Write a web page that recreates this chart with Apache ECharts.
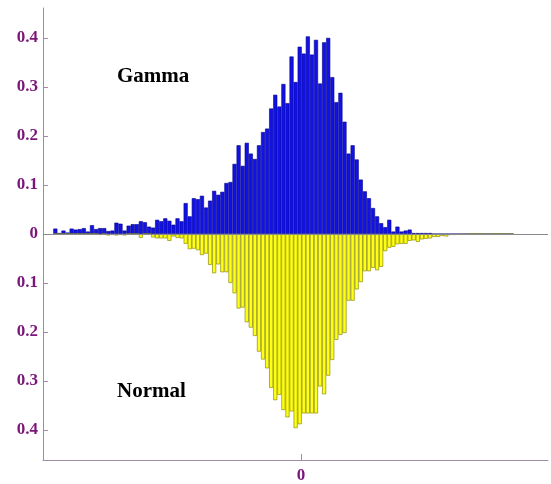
<!DOCTYPE html>
<html>
<head>
<meta charset="utf-8">
<script src="https://cdn.jsdelivr.net/npm/echarts@6/dist/echarts.min.js"></script>
<style>
html, body { margin: 0; padding: 0; background: #fff; }
#chart { width: 551px; height: 484px; }
</style>
</head>
<body>
<div id="chart"></div>
<script>
// bin heights, one bin per unit, left to right
var gamma = [
    0.011, 0.002, 0.007, 0.003, 0.011, 0.009, 0.010, 0.012, 0.005, 0.018,
    0.010, 0.012, 0.012, 0.006, 0.007, 0.023, 0.021, 0.007, 0.017, 0.020,
    0.020, 0.026, 0.024, 0.015, 0.013, 0.029, 0.026, 0.032, 0.027, 0.019,
    0.032, 0.026, 0.063, 0.036, 0.073, 0.071, 0.078, 0.054, 0.068, 0.088,
    0.080, 0.086, 0.104, 0.106, 0.143, 0.181, 0.139, 0.186, 0.164, 0.153,
    0.181, 0.208, 0.215, 0.256, 0.284, 0.260, 0.306, 0.267, 0.362, 0.310,
    0.382, 0.368, 0.403, 0.366, 0.396, 0.307, 0.391, 0.400, 0.320, 0.269,
    0.288, 0.229, 0.164, 0.181, 0.152, 0.111, 0.087, 0.073, 0.053, 0.036,
    0.022, 0.014, 0.029, 0.005, 0.015, 0.005, 0.007, 0.009, 0.002, 0.002,
    0.002, 0.002, 0.002, 0, 0, 0, 0, 0, 0, 0,
    0, 0, 0, 0, 0, 0, 0, 0, 0, 0,
    0, 0, 0
];
var normal = [
    0, 0, 0, 0, 0, 0, 0, 0, 0, 0,
    0, 0.002, 0, 0.003, 0.002, 0.003, 0.002, 0.003, 0, 0,
    0, 0.008, 0, 0, 0.007, 0.009, 0.009, 0.009, 0.014, 0.005,
    0.008, 0.009, 0.020, 0.031, 0.030, 0.033, 0.043, 0.040, 0.063, 0.080,
    0.062, 0.078, 0.078, 0.100, 0.121, 0.152, 0.150, 0.180, 0.191, 0.208,
    0.240, 0.256, 0.274, 0.314, 0.339, 0.328, 0.359, 0.374, 0.362, 0.396,
    0.388, 0.366, 0.366, 0.366, 0.366, 0.311, 0.327, 0.289, 0.257, 0.216,
    0.206, 0.202, 0.136, 0.136, 0.113, 0.098, 0.076, 0.076, 0.069, 0.074,
    0.067, 0.035, 0.028, 0.026, 0.021, 0.020, 0.020, 0.014, 0.013, 0.016,
    0.011, 0.010, 0.009, 0.006, 0.006, 0.004, 0.005, 0.002, 0.002, 0.001,
    0.001, 0.001, 0, 0, 0, 0, 0.001, 0, 0, 0,
    0, 0.001, 0
];
var binStart = -60.8;          // left edge of the first bin, 0 is on the tick
var xTicks = [0];
var yTicks = [-0.4, -0.3, -0.2, -0.1, 0, 0.1, 0.2, 0.3, 0.4];

var xMin = -63.33, xMax = 60.67;
var yLim = 0.461;
var purple = '#7a167a';
var axisGrey = '#a08ca8';

var myChart = echarts.init(document.getElementById('chart'));

var gridW = 551 - 43 - 3;
var binPx = gridW / (xMax - xMin);

var labelFont = {
    color: purple,
    fontFamily: 'Liberation Serif',
    fontWeight: 'bold',
    fontSize: 17
};

var option = {
    backgroundColor: '#fff',
    animation: false,
    grid: { left: 43, right: 3, top: 8, bottom: 24 },
    xAxis: {
        type: 'value',
        min: xMin,
        max: xMax,
        splitLine: { show: false },
        axisLine: { onZero: false, lineStyle: { color: axisGrey, width: 1 } },
        axisTick: { inside: true, length: 6, customValues: xTicks, lineStyle: { color: axisGrey } },
        axisLabel: Object.assign({ customValues: xTicks, margin: 7 }, labelFont)
    },
    yAxis: {
        type: 'value',
        min: -yLim,
        max: yLim,
        splitLine: { show: false },
        axisLine: { show: true, onZero: false, lineStyle: { color: axisGrey, width: 1 } },
        axisTick: { show: true, inside: true, length: 5, customValues: yTicks, lineStyle: { color: axisGrey } },
        axisLabel: Object.assign({
            customValues: yTicks,
            margin: 5,
            formatter: function (v) {
                if (Math.abs(v) < 1e-9) return '0';
                return Math.abs(v).toFixed(1);
            }
        }, labelFont)
    },
    series: [{
        name: 'Gamma',
        type: 'bar',
        stack: 'h',
        barWidth: binPx,
        data: gamma.map(function (v, i) { return [binStart + i + 0.5, v]; }),
        itemStyle: { color: '#1212e4', borderColor: '#00008a', borderWidth: 0.6 },
        markLine: {
            silent: true,
            symbol: 'none',
            label: { show: false },
            lineStyle: { color: '#8a8a8a', type: 'solid', width: 1 },
            data: [{ yAxis: 0 }]
        }
    }, {
        name: 'Normal',
        type: 'bar',
        stack: 'h',
        barWidth: binPx,
        data: normal.map(function (v, i) { return [binStart + i + 0.5, -v]; }),
        itemStyle: { color: '#ffff14', borderColor: '#8c8c10', borderWidth: 0.7 }
    }],
    graphic: [{
        type: 'text',
        left: 117,
        top: 66,
        style: { text: 'Gamma', font: 'bold 21px "Liberation Serif"', fill: '#000' }
    }, {
        type: 'text',
        left: 117,
        top: 381,
        style: { text: 'Normal', font: 'bold 21px "Liberation Serif"', fill: '#000' }
    }]
};

myChart.setOption(option);
</script>
</body>
</html>
